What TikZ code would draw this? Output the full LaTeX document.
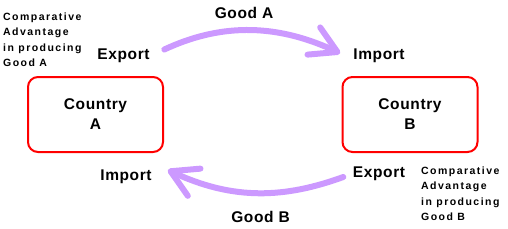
\documentclass[tikz,border=0pt]{standalone}
\usepackage{fontspec}
\setmainfont{Liberation Sans}
\newfontfamily\labelfont[LetterSpace=4]{Liberation Sans}
\newfontfamily\notefont[LetterSpace=14]{Liberation Sans}
\usetikzlibrary{arrows.meta,positioning}
\definecolor{trade}{HTML}{CC99FF}
\definecolor{border}{HTML}{FF0000}

\begin{document}
\begin{tikzpicture}[x=1pt, y=1pt,
  country/.style={draw=border, line width=2pt, rounded corners=10pt,
                  minimum width=135pt, minimum height=75pt, align=center,
                  font=\labelfont\bfseries\fontsize{15.5}{20}\selectfont},
  lbl/.style={inner sep=0pt, anchor=base, font=\labelfont\bfseries\fontsize{15.5}{18}\selectfont},
  note/.style={inner sep=0pt, anchor=north west, align=left,
               font=\notefont\bfseries\fontsize{10.5}{15.5}\selectfont},
  flow/.style={draw=trade, line width=6pt, line cap=round,
               -{Straight Barb[length=26pt, width=30pt, round]}}]
\useasboundingbox (0,0) rectangle (508,228);
\node[country] (ctryA) at (95.5,113.5) {Country\\A};
\node[country] (ctryB) at (410,113.5) {Country\\B};
\node[lbl] (exportA) at (123.5,168) {Export};
\node[lbl] (importB) at (379,168) {Import};
\node[lbl] (importA) at (126,47.3) {Import};
\node[lbl] (exportB) at (379,50.7) {Export};
\node[lbl] (goodA) at (244,209.7) {Good A};
\node[lbl] (goodB) at (260.5,6) {Good B};
\node[note] (advA) at (3,215.5) {Comparative\\Advantage\\in producing\\Good A};
\node[note] (advB) at (421,61.5) {Comparative\\Advantage\\in producing\\Good B};
% trade flows
\draw[flow, shorten <=16pt] (exportA.east) to[out=25, in=155] ([shift={(-13,3)}]importB.west);
\draw[flow, shorten <=10pt] (exportB.west) to[out=200, in=-25] ([shift={(16,7)}]importA.east);
\end{tikzpicture}
\end{document}
